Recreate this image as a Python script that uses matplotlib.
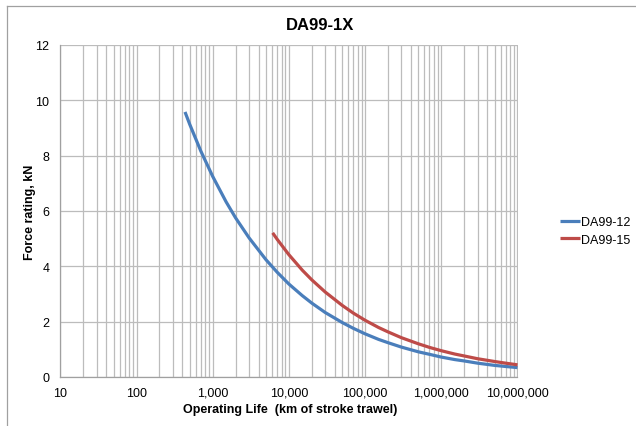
import matplotlib
matplotlib.use("Agg")
import matplotlib.pyplot as plt
from matplotlib.lines import Line2D
from matplotlib.ticker import FixedLocator, NullFormatter, LogLocator

plt.rcParams['font.family'] = ['Liberation Sans', 'DejaVu Sans']

title = "DA99-1X"
x_label = "Operating Life  (km of stroke trawel)"
y_label = "Force rating, kN"

x_ticks = [10, 100, 1000, 10000, 100000, 1000000, 10000000]
x_tick_labels = ["10", "100", "1,000", "10,000", "100,000", "1,000,000", "10,000,000"]
y_ticks = [0, 2, 4, 6, 8, 10, 12]

da99_12_life = [433, 500, 700, 1000, 1500, 2000, 3000, 5000, 7000, 10000, 15000, 20000,
                30000, 50000, 70000, 100000, 150000, 200000, 300000, 500000, 700000,
                1000000, 1500000, 2000000, 3000000, 5000000, 7000000, 10000000]
da99_12_force = [9.58, 9.13, 8.16, 7.25, 6.33, 5.75, 5.03, 4.24, 3.79, 3.36, 2.94, 2.67,
                 2.33, 1.97, 1.76, 1.56, 1.36, 1.24, 1.08, 0.91, 0.82,
                 0.72, 0.63, 0.58, 0.50, 0.42, 0.38, 0.34]

da99_15_life = [6120, 7000, 10000, 15000, 20000, 30000, 50000, 70000, 100000, 150000,
                200000, 300000, 500000, 700000, 1000000, 1500000, 2000000, 3000000,
                5000000, 7000000, 10000000]
da99_15_force = [5.21, 4.98, 4.42, 3.86, 3.51, 3.07, 2.59, 2.31, 2.05, 1.79,
                 1.63, 1.42, 1.20, 1.07, 0.95, 0.83, 0.76, 0.66,
                 0.56, 0.50, 0.44]

W, H = 636, 427
fig = plt.figure(figsize=(W / 100, H / 100), dpi=100)
ax = fig.add_axes([60.3 / W, 1 - 378 / H, (517.5 - 60.3) / W, (378 - 46) / H])

ax.plot(da99_12_life, da99_12_force, color='#4a7ebb', lw=2.3, label='DA99-12',
        solid_capstyle='butt')
ax.plot(da99_15_life, da99_15_force, color='#be4b48', lw=2.3, label='DA99-15',
        solid_capstyle='butt')

ax.set_xscale('log')
ax.set_xlim(10, 10000000)
ax.set_ylim(0, 12)
ax.xaxis.set_major_locator(FixedLocator(x_ticks))
ax.set_xticklabels(x_tick_labels)
ax.xaxis.set_minor_locator(LogLocator(base=10, subs=range(2, 10)))
ax.xaxis.set_minor_formatter(NullFormatter())
ax.set_yticks(y_ticks)

grid_c = '#bcbcbc'
ax.grid(True, which='major', color=grid_c, lw=0.9)
ax.grid(True, which='minor', axis='x', color=grid_c, lw=0.9)
ax.set_axisbelow(True)
for s in ['top', 'right']:
    ax.spines[s].set_visible(False)
for s in ['left', 'bottom']:
    ax.spines[s].set_color('#a0a0a0')
    ax.spines[s].set_linewidth(0.9)
ax.tick_params(which='both', length=0, labelsize=9, colors='#000000')
ax.tick_params(axis='y', pad=8)
ax.tick_params(axis='x', pad=7)

fig.text(320 / W, 1 - 25 / H, title, ha='center', va='center', fontsize=12,
         fontweight='bold')
fig.text(290 / W, 1 - 410 / H, x_label, ha='center', va='center', fontsize=9,
         fontweight='bold')
fig.text(30 / W, 1 - 212 / H, y_label, ha='center', va='center', fontsize=9,
         fontweight='bold', rotation=90)

leg = ax.legend(loc='center left', bbox_to_anchor=(560 / W, 1 - 232 / H),
                bbox_transform=fig.transFigure, frameon=False, fontsize=9,
                handlelength=1.6, handletextpad=0.05, labelspacing=0.45,
                borderpad=0, borderaxespad=0)

border_c = '#a0a0a0'
fig.add_artist(Line2D([7 / W, 7 / W], [0, 1 - 7 / H], color=border_c, lw=0.9,
                      transform=fig.transFigure))
fig.add_artist(Line2D([7 / W, 1], [1 - 7 / H, 1 - 7 / H], color=border_c, lw=0.9,
                      transform=fig.transFigure))

fig.savefig('out.png', dpi=100)
